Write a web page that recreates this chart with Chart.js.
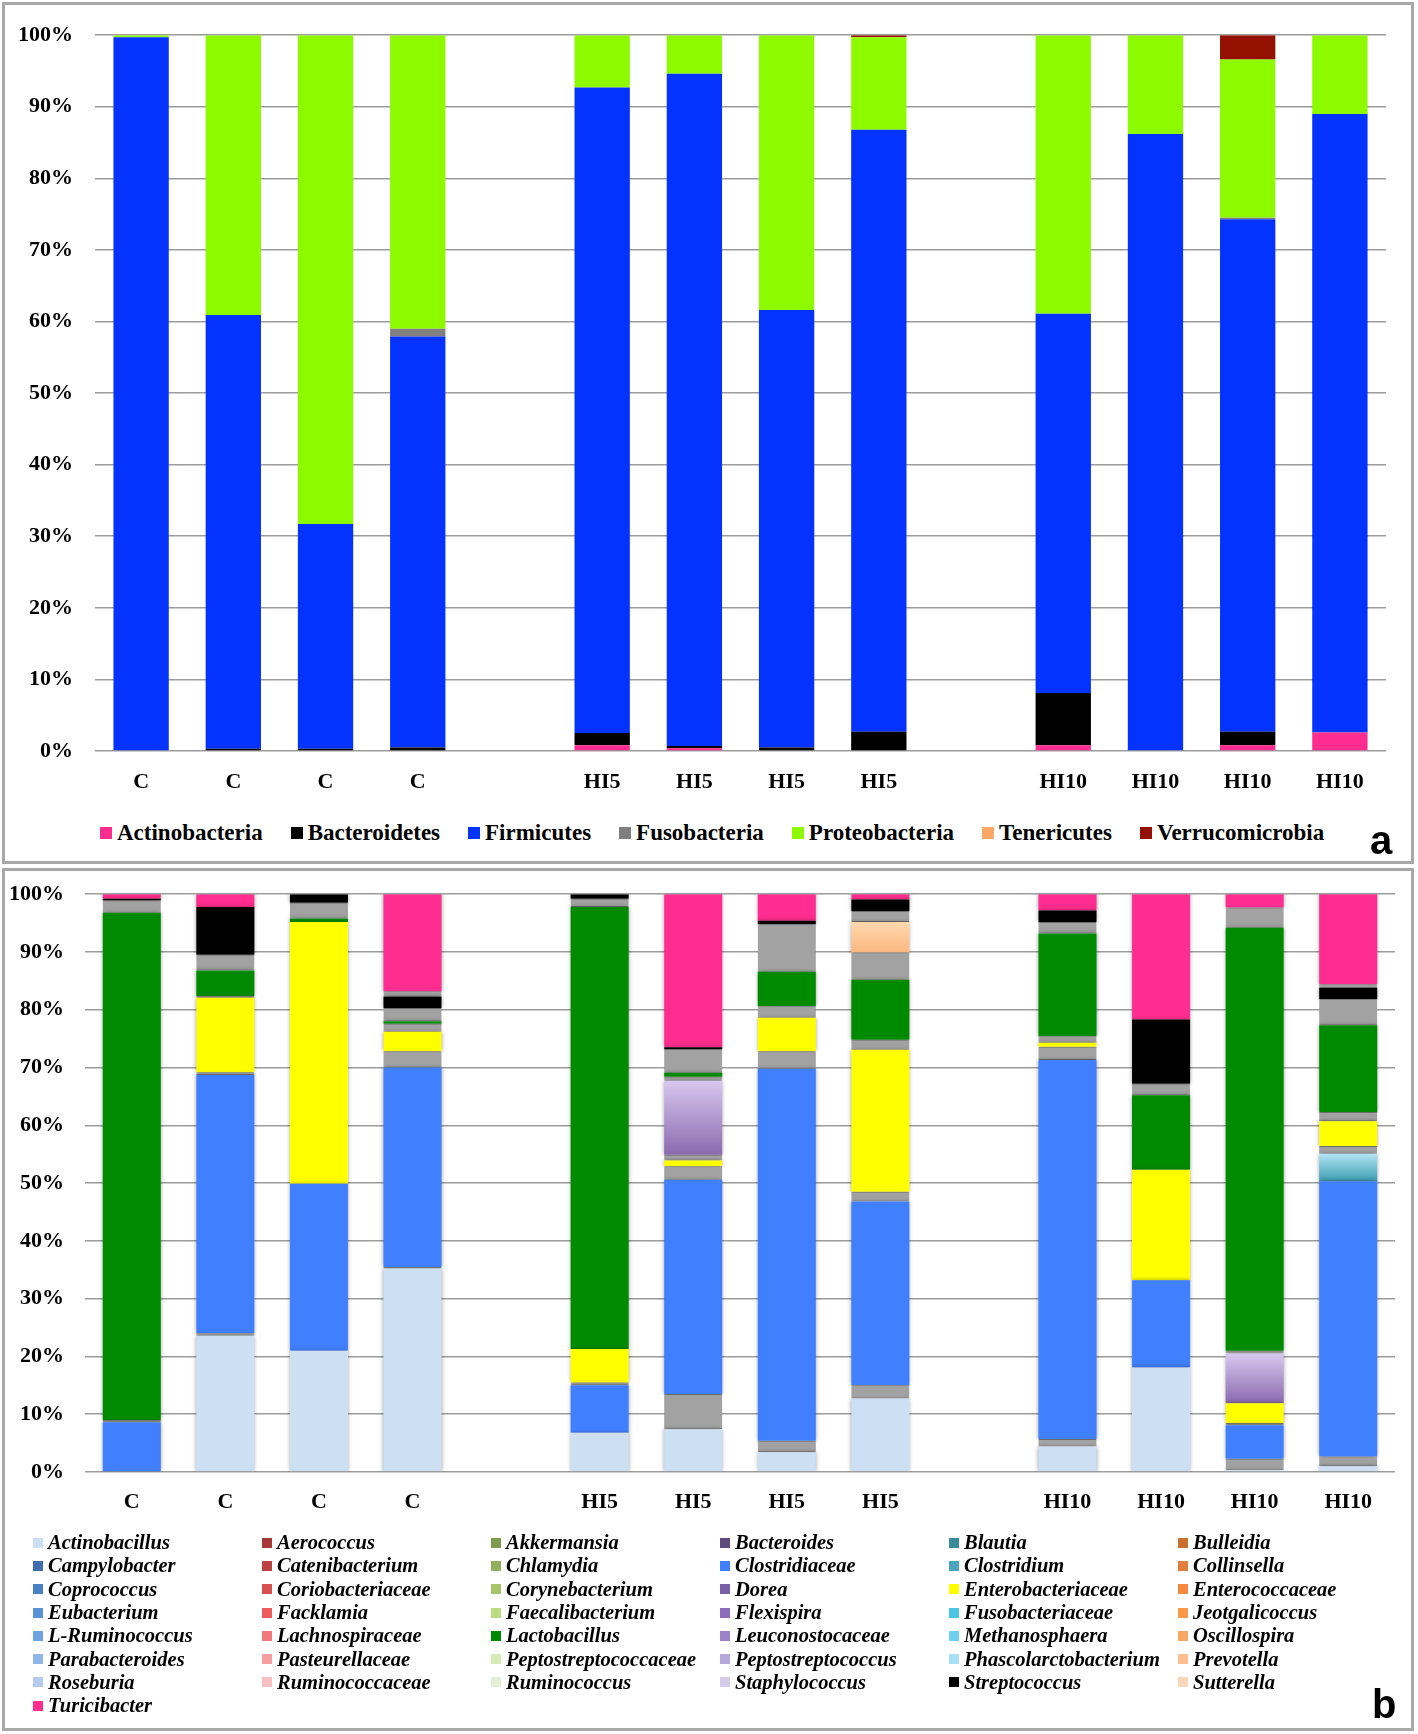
<!DOCTYPE html>
<html>
<head>
<meta charset="utf-8">
<script src="https://cdn.jsdelivr.net/npm/chart.js@4.4.1/dist/chart.umd.min.js"></script>
<style>
  body { margin: 0; background: #fff; width: 1418px; height: 1734px; position: relative; overflow: hidden; font-family: "Liberation Serif", "Times New Roman", serif; }
  .box { position: absolute; left: 2px; width: 1406px; border: 3px solid #a8a8a8; }
  #boxA { top: 2px; height: 856px; }
  #boxB { top: 868px; height: 857px; }
  canvas { position: absolute; left: 0; }
  #chartA { top: 0; }
  #chartB { top: 860px; }
  #legendA { position: absolute; left: 100px; top: 819px; height: 28px; display: flex; align-items: center; white-space: nowrap; font-weight: bold; font-size: 23px; }
  #legendA .item { display: flex; align-items: center; margin-right: 28px; }
  #legendA .sq { width: 12px; height: 12px; margin-right: 5px; }
  #legendB { position: absolute; left: 33px; top: 1531px; display: grid; grid-template-columns: repeat(6, 229px); grid-auto-rows: 23.3px; font-weight: bold; font-style: italic; font-size: 20.5px; white-space: nowrap; }
  #legendB .item { display: flex; align-items: center; }
  #legendB .sq { width: 10px; height: 10px; margin-right: 5px; }
  .tag { position: absolute; font-family: "Liberation Sans", Arial, sans-serif; font-weight: bold; font-size: 40px; line-height: 40px; }
</style>
</head>
<body>
<div class="box" id="boxA"></div>
<div class="box" id="boxB"></div>
<canvas id="chartA" width="1418" height="800"></canvas>
<canvas id="chartB" width="1418" height="680"></canvas>
<div id="legendA"></div>
<div id="legendB"></div>
<div class="tag" style="left:1370px; top:820px;">a</div>
<div class="tag" style="left:1372px; top:1684px;">b</div>
<script>
// sample labels, two empty slots separate the groups
const categories = ["C", "C", "C", "C", "", "HI5", "HI5", "HI5", "HI5", "", "HI10", "HI10", "HI10", "HI10"];
const yTicks = [0, 10, 20, 30, 40, 50, 60, 70, 80, 90, 100];

// panel a: phylum level (%)
const actinobacteria  = [0, 0, 0, 0, null, 0.8, 0.4, 0, 0, null, 0.8, 0, 0.8, 2.6];
const bacteroidetes   = [0, 0.3, 0.3, 0.5, null, 1.7, 0.3, 0.5, 2.7, null, 7.3, 0, 1.9, 0];
const firmicutes      = [99.7, 60.6, 31.4, 57.4, null, 90.2, 93.9, 61.1, 84.1, null, 53.0, 86.2, 71.6, 86.4];
const fusobacteria    = [0, 0, 0, 1.1, null, 0, 0, 0, 0, null, 0, 0, 0.2, 0];
const proteobacteria  = [0.3, 39.1, 68.3, 41.0, null, 7.3, 5.4, 38.4, 12.9, null, 38.9, 13.8, 22.1, 11.0];
const tenericutes     = [0, 0, 0, 0, null, 0, 0, 0, 0, null, 0, 0, 0, 0];
const verrucomicrobia = [0, 0, 0, 0, null, 0, 0, 0, 0.3, null, 0, 0, 3.4, 0];

// panel b: genus level (%), bottom to top
const actinobacillus       = [0, 23.6, 21.0, 35.2, null, 6.8, 7.4, 3.4, 12.7, null, 4.4, 18.1, 0.3, 1.0];
const lachnospiraceae      = [0, 0.4, 0, 0.3, null, 0, 6.1, 2.0, 2.3, null, 1.3, 0, 2.0, 1.7];
const clostridiaceae       = [8.6, 44.7, 28.9, 34.5, null, 8.2, 37.1, 64.4, 31.8, null, 65.6, 15.1, 5.8, 47.6];
const phascolarctobacterium = [0, 0, 0, 0, null, 0, 0, 0, 0, null, 0, 0, 0, 4.8];
const ruminococcaceae      = [0.4, 0.5, 0, 2.8, null, 0.5, 2.3, 3.0, 1.7, null, 2.3, 0, 0.4, 1.3];
const enterobacteriaceae   = [0, 12.9, 45.3, 3.4, null, 5.8, 1.0, 5.8, 24.6, null, 0.7, 19.1, 3.4, 4.3];
const staphylococcus       = [0, 0.3, 0, 1.4, null, 0, 1.0, 2.0, 1.7, null, 1.1, 0, 0, 1.6];
const peptostreptococcus   = [0, 0, 0, 0, null, 0, 12.8, 0, 0, null, 0, 0, 8.6, 0];
const leuconostocaceae     = [0, 0, 0, 0, null, 0, 0.7, 0, 0, null, 0, 0, 0.5, 0];
const lactobacillus        = [87.8, 4.4, 0.6, 0.4, null, 76.5, 0.7, 6.0, 10.4, null, 17.8, 12.9, 73.2, 15.0];
const enterococcaceae      = [2.1, 2.7, 2.7, 2.3, null, 1.4, 4.1, 8.2, 4.7, null, 2.0, 2.0, 3.5, 4.5];
const prevotella           = [0, 0, 0, 0, null, 0, 0, 0, 5.3, null, 0, 0, 0, 0];
const bacteroides          = [0, 0, 0, 0, null, 0, 0, 0, 1.9, null, 0, 0, 0, 0];
const streptococcus        = [0.3, 8.3, 1.5, 2.0, null, 0.8, 0.3, 0.6, 2.0, null, 2.0, 11.1, 0, 2.0];
const collinsella          = [0, 0, 0, 0.9, null, 0, 0, 0, 0, null, 0, 0, 0, 0.6];
const turicibacter         = [0.8, 2.2, 0, 16.8, null, 0, 26.5, 4.6, 0.9, null, 2.8, 21.7, 2.3, 15.6];

const phylumNames = ["Actinobacteria", "Bacteroidetes", "Firmicutes", "Fusobacteria", "Proteobacteria", "Tenericutes", "Verrucomicrobia"];
const phylumColors = ["#ff2d8f", "#000000", "#0433ff", "#7f7f7f", "#8efa00", "#ffa868", "#941100"];

const genusNames = [
  "Actinobacillus", "Aerococcus", "Akkermansia", "Bacteroides", "Blautia", "Bulleidia",
  "Campylobacter", "Catenibacterium", "Chlamydia", "Clostridiaceae", "Clostridium", "Collinsella",
  "Coprococcus", "Coriobacteriaceae", "Corynebacterium", "Dorea", "Enterobacteriaceae", "Enterococcaceae",
  "Eubacterium", "Facklamia", "Faecalibacterium", "Flexispira", "Fusobacteriaceae", "Jeotgalicoccus",
  "L-Ruminococcus", "Lachnospiraceae", "Lactobacillus", "Leuconostocaceae", "Methanosphaera", "Oscillospira",
  "Parabacteroides", "Pasteurellaceae", "Peptostreptococcaceae", "Peptostreptococcus", "Phascolarctobacterium", "Prevotella",
  "Roseburia", "Ruminococcaceae", "Ruminococcus", "Staphylococcus", "Streptococcus", "Sutterella",
  "Turicibacter"
];
const genusColors = [
  "#cddff3", "#a83838", "#7f9a4e", "#5e4d7e", "#3a8a9e", "#c8702c",
  "#3f6fae", "#bd4242", "#93b05c", "#3f7fff", "#49a6bc", "#e0803c",
  "#4a80c4", "#d65050", "#a7c46a", "#7a60a8", "#ffff00", "#f48a40",
  "#5a92d6", "#ec5c5c", "#bddb80", "#8c6cba", "#4cc4e4", "#f89848",
  "#6fa2e0", "#f07a7a", "#008a00", "#9c82c8", "#6cd0ee", "#f8a862",
  "#90b6ea", "#f4a0a0", "#d4ebb4", "#b6a6da", "#a8e0f4", "#fbbf90",
  "#b4ccf0", "#f8c0c0", "#e4f0d6", "#d4cce8", "#000000", "#fcd6b8",
  "#ff2d8f"
];

// vertical gradient over one stacked segment, like the glossy fills in the original
function vgrad(top, bottom) {
  return (c) => {
    const chart = c.chart, y = chart.scales.y;
    if (!y || c.raw == null || !chart.chartArea) return bottom;
    let start = 0;
    for (let j = 0; j < c.datasetIndex; j++) start += chart.data.datasets[j].data[c.dataIndex] || 0;
    const y0 = y.getPixelForValue(start), y1 = y.getPixelForValue(start + c.raw);
    if (!isFinite(y0) || !isFinite(y1) || y0 === y1) return bottom;
    const g = chart.ctx.createLinearGradient(0, y1, 0, y0);
    g.addColorStop(0, top);
    g.addColorStop(1, bottom);
    return g;
  };
}

// soft shadow round each segment (Excel look in panel b)
const softShadow = {
  id: "softShadow",
  beforeDatasetsDraw(chart) {
    const ctx = chart.ctx;
    ctx.save();
    ctx.shadowColor = "rgba(0,0,0,0.35)";
    ctx.shadowBlur = 4;
  },
  afterDatasetsDraw(chart) { chart.ctx.restore(); }
};

const tickFont = { family: "'Liberation Serif', 'Times New Roman', serif", size: 22, weight: "bold" };

function makeOptions(yWidth, xHeight, pad, yPad, xPad) {
  return {
    responsive: false,
    animation: false,
    layout: { padding: pad },
    plugins: { legend: { display: false }, tooltip: { enabled: false } },
    scales: {
      x: {
        stacked: true,
        grid: { display: false },
        border: { display: false },
        ticks: { color: "#000", font: tickFont, padding: xPad, maxRotation: 0, autoSkip: false },
        afterFit: s => { s.height = xHeight; }
      },
      y: {
        stacked: true,
        min: 0, max: 100,
        afterBuildTicks: s => { s.ticks = yTicks.map(v => ({ value: v })); },
        grid: { color: "#9c9c9c", lineWidth: 1.6, drawTicks: false },
        border: { display: false },
        ticks: { color: "#000", font: tickFont, padding: yPad, callback: v => v + "%" },
        afterFit: s => { s.width = yWidth; }
      }
    }
  };
}

// panel a
const phylumData = [actinobacteria, bacteroidetes, firmicutes, fusobacteria, proteobacteria, tenericutes, verrucomicrobia];
new Chart(document.getElementById("chartA"), {
  type: "bar",
  data: {
    labels: categories,
    datasets: phylumNames.map((n, i) => ({
      label: n,
      data: phylumData[i],
      backgroundColor: phylumColors[i],
      barPercentage: 0.8,
      categoryPercentage: 0.75
    }))
  },
  options: makeOptions(95, 49, { top: 28, right: 32, left: 0, bottom: 0 }, 22, 10)
});

// panel b: thin minor genera show up as grey bands in the original
const grey = "#a2a2a2", greyEdge = "#7e7e7e";
const genusStack = [
  ["Actinobacillus", actinobacillus, "#cddff3"],
  ["Lachnospiraceae", lachnospiraceae, grey],
  ["Clostridiaceae", clostridiaceae, "#4080ff"],
  ["Phascolarctobacterium", phascolarctobacterium, vgrad("#b4e6f6", "#3a9cb0")],
  ["Ruminococcaceae", ruminococcaceae, grey],
  ["Enterobacteriaceae", enterobacteriaceae, "#ffff00"],
  ["Staphylococcus", staphylococcus, grey],
  ["Peptostreptococcus", peptostreptococcus, vgrad("#d8c8f0", "#8a6aae")],
  ["Leuconostocaceae", leuconostocaceae, grey],
  ["Lactobacillus", lactobacillus, "#008a00"],
  ["Enterococcaceae", enterococcaceae, grey],
  ["Prevotella", prevotella, vgrad("#ffd8ae", "#fbb880")],
  ["Bacteroides", bacteroides, grey],
  ["Streptococcus", streptococcus, "#000000"],
  ["Collinsella", collinsella, grey],
  ["Turicibacter", turicibacter, "#ff2d8f"]
];
new Chart(document.getElementById("chartB"), {
  type: "bar",
  data: {
    labels: categories,
    datasets: genusStack.map(([n, d, col]) => ({
      label: n,
      data: d,
      backgroundColor: col,
      borderColor: col === grey ? greyEdge : "rgba(0,0,0,0)",
      borderWidth: col === grey ? { top: 1, bottom: 1, left: 0, right: 0 } : 0,
      borderSkipped: false,
      barPercentage: 0.85,
      categoryPercentage: 0.73
    }))
  },
  options: makeOptions(85, 68, { top: 34, right: 23, left: 0, bottom: 0 }, 21, 9),
  plugins: [softShadow]
});

// legends
const legA = document.getElementById("legendA");
phylumNames.forEach((n, i) => {
  const it = document.createElement("div");
  it.className = "item";
  it.innerHTML = `<span class="sq" style="background:${phylumColors[i]}"></span><span>${n}</span>`;
  legA.appendChild(it);
});
const legB = document.getElementById("legendB");
genusNames.forEach((n, i) => {
  const it = document.createElement("div");
  it.className = "item";
  it.innerHTML = `<span class="sq" style="background:${genusColors[i]}"></span><span>${n}</span>`;
  legB.appendChild(it);
});
</script>
</body>
</html>
